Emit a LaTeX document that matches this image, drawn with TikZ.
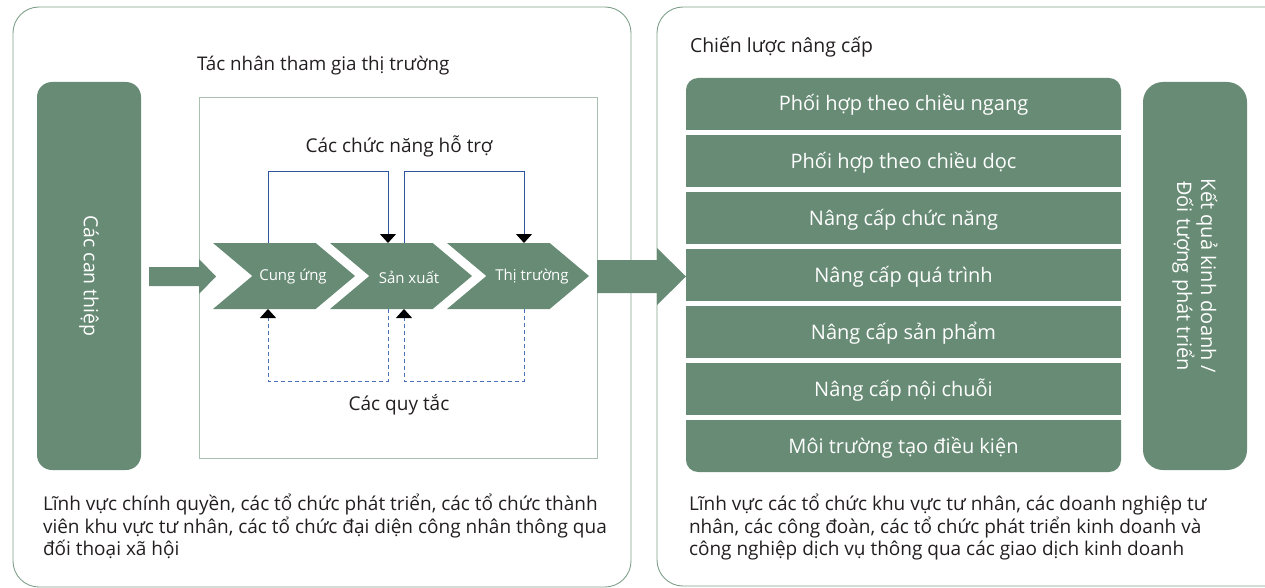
\documentclass[tikz,border=0pt]{standalone}
\usepackage{fontspec}
\setmainfont{Open Sans}
\usetikzlibrary{shapes.symbols,arrows.meta,backgrounds}
\definecolor{gr}{HTML}{678B74}
\definecolor{pb}{HTML}{7FA08A}
\definecolor{ib}{HTML}{A9BFAF}
\definecolor{bl}{HTML}{2E5597}
\definecolor{bld}{HTML}{4A70B5}
\definecolor{tx}{HTML}{231F20}
\begin{document}
\begin{tikzpicture}[x=1pt,y=-1pt,
  every node/.style={inner sep=0pt, outer sep=0pt, text=tx},
  panel/.style={draw=pb, line width=0.9pt, rounded corners=26pt, anchor=north west},
  gbox/.style={fill=gr, draw=none, anchor=north west, rounded corners=#1},
  wtext/.style={text=white},
  chev/.style={signal, signal to=east, signal from=west, signal pointer angle=80,
    fill=gr, minimum width=142pt, minimum height=66pt},
  ctext/.style={text=white, font=\fontsize{15}{18}\selectfont},
  title/.style={font=\fontsize{19}{22}\selectfont},
  rowbox/.style={fill=gr, minimum width=435pt, minimum height=52pt, text=white,
    text height=16pt, text depth=2pt, font=\fontsize{20}{24}\selectfont},
  sup/.style={draw=bl, line width=1pt, -{Triangle[width=16pt,length=9pt,color=black]}},
  rul/.style={draw=bld, line width=1pt, dash pattern=on 4pt off 3pt,
    -{Triangle[width=16pt,length=9pt,color=black]}},
  btext/.style={align=left, font=\fontsize{19}{22.5}\selectfont, anchor=north west}
]
\useasboundingbox (0,0) rectangle (1265,588);
\clip (0,0) rectangle (1265,588);

% panels
\node[panel, minimum width=618pt, minimum height=580pt] (lp) at (13,7) {};
\node[panel, minimum width=660pt, minimum height=579pt] (rp) at (657,7) {};

% left intervention box
\node[gbox=15pt, minimum width=104pt, minimum height=388pt] (lb) at (37,82) {};
\node[wtext, rotate=-90, font=\fontsize{19.5}{23}\selectfont] (lbt) at (lb.center) {Các can thiệp};

% inner rectangle
\node[draw=ib, line width=1pt, anchor=north west, minimum width=398pt, minimum height=360pt] (ir) at (199,98) {};
\node[title, anchor=west, font=\fontsize{18.8}{22}\selectfont] (t1) at (197,66) {Tác nhân tham gia thị trường};
\node[title] (t2) at (399,146) {Các chức năng hỗ trợ};
\node[title] (t3) at (399,405) {Các quy tắc};

% chevrons
\node[chev] (c1) at (284,276) {};
\node[chev] (c2) at (401,276) {};
\node[chev] (c3) at (518,276) {};
\node[ctext] (l1) at (293,277) {Cung ứng};
\node[ctext] (l2) at (409,277) {Sản xuất};
\node[ctext] (l3) at (532,277) {Thị trường};

% support functions (solid)
\draw[sup] ([xshift=55pt]c1.north west) -- ++(0,-71) -| ([xshift=58pt]c2.north west);
\draw[sup] ([xshift=74pt]c2.north west) -- ++(0,-71) -| ([xshift=77pt]c3.north west);
% rules (dashed)
\draw[rul] ([xshift=58pt]c2.south west) -- ++(0,72) -| ([xshift=55pt]c1.south west);
\draw[rul] ([xshift=77pt]c3.south west) -- ++(0,72) -| ([xshift=74pt]c2.south west);

% small arrow from interventions
\coordinate (sa) at (149,276.5);
\fill[gr] (sa) ++(0,-9.5) -- ++(50,0) -- ++(0,-8) -- ++(17,17.5) -- ++(-17,17.5) -- ++(0,-8) -- ++(-50,0) -- cycle;

% big arrow between panels
\coordinate (ba) at (597,276.5);
\fill[gr] (ba) ++(0,-16.5) -- ++(60,0) -- ++(0,-12) -- ++(29,28.5) -- ++(-29,28.5) -- ++(0,-12) -- ++(-60,0) -- cycle;

% right panel
\node[title, anchor=west, font=\fontsize{19.4}{22}\selectfont] (t4) at (690,47) {Chiến lược nâng cấp};
\node[rowbox, fill=none] (r1) at (903.5,104) {Phối hợp theo chiều ngang};
\node[rowbox] (r2) at (903.5,161) {Phối hợp theo chiều dọc};
\node[rowbox] (r3) at (903.5,218) {Nâng cấp chức năng};
\node[rowbox] (r4) at (903.5,275) {Nâng cấp quá trình};
\node[rowbox] (r5) at (903.5,332) {Nâng cấp sản phẩm};
\node[rowbox] (r6) at (903.5,389) {Nâng cấp nội chuỗi};
\node[rowbox, fill=none] (r7) at (903.5,446) {Môi trường tạo điều kiện};
\begin{scope}[on background layer]
\fill[gr] (r1.south west) [rounded corners=12pt] -- (r1.north west) -- (r1.north east) [sharp corners] -- (r1.south east) -- cycle;
\fill[gr] (r7.north west) [rounded corners=12pt] -- (r7.south west) -- (r7.south east) [sharp corners] -- (r7.north east) -- cycle;
\end{scope}

\node[gbox=20pt, minimum width=104pt, minimum height=388pt] (rb) at (1143,82) {};
\node[wtext, rotate=-90, align=center, font=\fontsize{20}{24}\selectfont] (rbt) at (rb.center) {Kết quả kinh doanh /\\Đối tượng phát triển};

% bottom texts
\node[btext] (bt1) at (43,494) {Lĩnh vực chính quyền, các tổ chức phát triển, các tổ chức thành\\viên khu vực tư nhân, các tổ chức đại diện công nhân thông qua\\đối thoại xã hội};
\node[btext] (bt2) at (689,494) {Lĩnh vực các tổ chức khu vực tư nhân, các doanh nghiệp tư\\nhân, các công đoàn, các tổ chức phát triển kinh doanh và\\công nghiệp dịch vụ thông qua các giao dịch kinh doanh};
\end{tikzpicture}
\end{document}
